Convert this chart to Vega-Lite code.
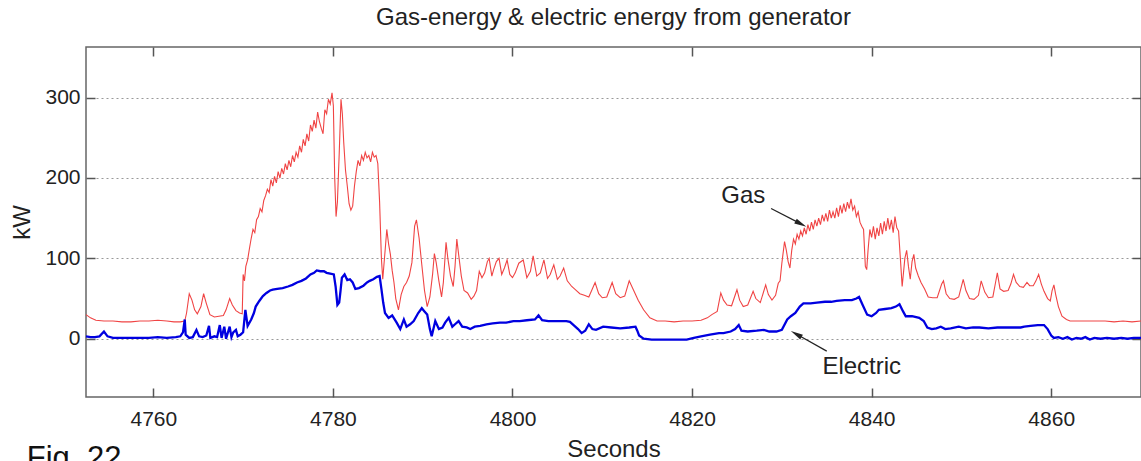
{
  "$schema": "https://vega.github.io/schema/vega-lite/v6.json",
  "width": 1055,
  "height": 350,
  "autosize": {"type": "none"},
  "padding": {"left": 86, "top": 47, "right": 0, "bottom": 64},
  "background": "white",
  "title": {
    "text": "Gas-energy & electric energy from generator",
    "font": "Liberation Sans",
    "fontSize": 24,
    "fontWeight": "normal",
    "color": "#222222",
    "anchor": "middle",
    "frame": "group",
    "baseline": "alphabetic",
    "offset": -3
  },
  "config": {
    "view": {"stroke": "#666666", "strokeWidth": 1.5},
    "axis": {
      "labelFont": "Liberation Sans",
      "labelFontSize": 21,
      "labelColor": "#222222",
      "titleFont": "Liberation Sans",
      "titleFontSize": 24,
      "titleFontWeight": "normal",
      "titleColor": "#222222",
      "domain": false,
      "tickColor": "#555555",
      "tickWidth": 1.5,
      "tickSize": -9,
      "grid": false,
      "format": "d"
    }
  },
  "datasets": {
    "gas": [
      {"t": 4752.5, "kw": 30}, {"t": 4753, "kw": 26}, {"t": 4753.6, "kw": 23}, {"t": 4754.5, "kw": 22},
      {"t": 4755.5, "kw": 22}, {"t": 4756.5, "kw": 21}, {"t": 4757.5, "kw": 21}, {"t": 4758.5, "kw": 22},
      {"t": 4759.5, "kw": 22}, {"t": 4760.5, "kw": 23}, {"t": 4761.5, "kw": 22}, {"t": 4762.3, "kw": 21},
      {"t": 4763, "kw": 21}, {"t": 4763.5, "kw": 22}, {"t": 4763.7, "kw": 32}, {"t": 4764.0, "kw": 56},
      {"t": 4764.3, "kw": 48}, {"t": 4764.6, "kw": 36}, {"t": 4764.9, "kw": 31}, {"t": 4765.3, "kw": 40},
      {"t": 4765.6, "kw": 56}, {"t": 4765.9, "kw": 44}, {"t": 4766.3, "kw": 30}, {"t": 4766.8, "kw": 27},
      {"t": 4767.3, "kw": 28}, {"t": 4767.8, "kw": 29}, {"t": 4768.1, "kw": 36}, {"t": 4768.5, "kw": 50},
      {"t": 4768.8, "kw": 42}, {"t": 4769.2, "kw": 35}, {"t": 4769.6, "kw": 32}, {"t": 4769.9, "kw": 31},
      {"t": 4770.0, "kw": 80}, {"t": 4770.15, "kw": 72}, {"t": 4770.3, "kw": 90}, {"t": 4770.5, "kw": 98},
      {"t": 4770.7, "kw": 112}, {"t": 4770.9, "kw": 125}, {"t": 4771.1, "kw": 136}, {"t": 4771.3, "kw": 132},
      {"t": 4771.5, "kw": 148}, {"t": 4771.7, "kw": 152}, {"t": 4771.9, "kw": 162}, {"t": 4772.1, "kw": 158},
      {"t": 4772.3, "kw": 172}, {"t": 4772.5, "kw": 178}, {"t": 4772.7, "kw": 186}, {"t": 4772.9, "kw": 182},
      {"t": 4773.1, "kw": 198}, {"t": 4773.3, "kw": 190}, {"t": 4773.5, "kw": 202}, {"t": 4773.7, "kw": 194},
      {"t": 4773.9, "kw": 208}, {"t": 4774.1, "kw": 200}, {"t": 4774.3, "kw": 212}, {"t": 4774.5, "kw": 205},
      {"t": 4774.7, "kw": 218}, {"t": 4774.9, "kw": 210}, {"t": 4775.1, "kw": 222}, {"t": 4775.3, "kw": 214},
      {"t": 4775.5, "kw": 228}, {"t": 4775.7, "kw": 220}, {"t": 4775.9, "kw": 232}, {"t": 4776.1, "kw": 226},
      {"t": 4776.3, "kw": 240}, {"t": 4776.5, "kw": 232}, {"t": 4776.7, "kw": 248}, {"t": 4776.9, "kw": 240},
      {"t": 4777.1, "kw": 255}, {"t": 4777.3, "kw": 246}, {"t": 4777.5, "kw": 266}, {"t": 4777.7, "kw": 258},
      {"t": 4777.9, "kw": 272}, {"t": 4778.1, "kw": 262}, {"t": 4778.3, "kw": 282}, {"t": 4778.5, "kw": 270},
      {"t": 4778.7, "kw": 262}, {"t": 4778.9, "kw": 255}, {"t": 4779.1, "kw": 285}, {"t": 4779.3, "kw": 280},
      {"t": 4779.5, "kw": 298}, {"t": 4779.7, "kw": 292}, {"t": 4779.9, "kw": 306}, {"t": 4780.05, "kw": 290},
      {"t": 4780.2, "kw": 200}, {"t": 4780.35, "kw": 152}, {"t": 4780.5, "kw": 170}, {"t": 4780.7, "kw": 230},
      {"t": 4780.9, "kw": 298}, {"t": 4781.05, "kw": 280}, {"t": 4781.2, "kw": 245}, {"t": 4781.4, "kw": 210},
      {"t": 4781.6, "kw": 190}, {"t": 4781.8, "kw": 168}, {"t": 4782.0, "kw": 160}, {"t": 4782.2, "kw": 165},
      {"t": 4782.4, "kw": 190}, {"t": 4782.6, "kw": 208}, {"t": 4782.8, "kw": 222}, {"t": 4783.0, "kw": 215},
      {"t": 4783.2, "kw": 228}, {"t": 4783.4, "kw": 222}, {"t": 4783.6, "kw": 232}, {"t": 4783.8, "kw": 225},
      {"t": 4784.0, "kw": 228}, {"t": 4784.2, "kw": 220}, {"t": 4784.4, "kw": 232}, {"t": 4784.6, "kw": 226},
      {"t": 4784.8, "kw": 228}, {"t": 4785.0, "kw": 218}, {"t": 4785.2, "kw": 170}, {"t": 4785.4, "kw": 100},
      {"t": 4785.55, "kw": 74}, {"t": 4785.8, "kw": 108}, {"t": 4786.0, "kw": 136}, {"t": 4786.2, "kw": 118},
      {"t": 4786.4, "kw": 105}, {"t": 4786.6, "kw": 85}, {"t": 4786.8, "kw": 70}, {"t": 4787.0, "kw": 50},
      {"t": 4787.3, "kw": 36}, {"t": 4787.6, "kw": 55}, {"t": 4787.9, "kw": 65}, {"t": 4788.2, "kw": 70},
      {"t": 4788.5, "kw": 78}, {"t": 4788.8, "kw": 95}, {"t": 4789.1, "kw": 140}, {"t": 4789.3, "kw": 148},
      {"t": 4789.6, "kw": 125}, {"t": 4789.9, "kw": 92}, {"t": 4790.2, "kw": 60}, {"t": 4790.5, "kw": 40},
      {"t": 4790.8, "kw": 52}, {"t": 4791.1, "kw": 80}, {"t": 4791.3, "kw": 106}, {"t": 4791.5, "kw": 95},
      {"t": 4791.8, "kw": 72}, {"t": 4792.1, "kw": 52}, {"t": 4792.3, "kw": 70}, {"t": 4792.6, "kw": 120},
      {"t": 4792.8, "kw": 100}, {"t": 4793.1, "kw": 78}, {"t": 4793.4, "kw": 65}, {"t": 4793.6, "kw": 90},
      {"t": 4793.8, "kw": 124}, {"t": 4794.0, "kw": 105}, {"t": 4794.3, "kw": 78}, {"t": 4794.6, "kw": 60},
      {"t": 4795.0, "kw": 57}, {"t": 4795.4, "kw": 49}, {"t": 4795.7, "kw": 53}, {"t": 4796.0, "kw": 60},
      {"t": 4796.3, "kw": 84}, {"t": 4796.6, "kw": 76}, {"t": 4796.9, "kw": 82}, {"t": 4797.2, "kw": 96},
      {"t": 4797.4, "kw": 100}, {"t": 4797.7, "kw": 78}, {"t": 4797.9, "kw": 86}, {"t": 4798.2, "kw": 96},
      {"t": 4798.5, "kw": 100}, {"t": 4798.8, "kw": 80}, {"t": 4799.1, "kw": 88}, {"t": 4799.4, "kw": 98},
      {"t": 4799.7, "kw": 80}, {"t": 4800.0, "kw": 76}, {"t": 4800.3, "kw": 82}, {"t": 4800.7, "kw": 94},
      {"t": 4801.2, "kw": 98}, {"t": 4801.6, "kw": 76}, {"t": 4802.0, "kw": 84}, {"t": 4802.3, "kw": 103},
      {"t": 4802.7, "kw": 78}, {"t": 4803.1, "kw": 82}, {"t": 4803.5, "kw": 98}, {"t": 4803.9, "kw": 75},
      {"t": 4804.2, "kw": 80}, {"t": 4804.6, "kw": 92}, {"t": 4805.0, "kw": 74}, {"t": 4805.3, "kw": 78},
      {"t": 4805.7, "kw": 88}, {"t": 4806.1, "kw": 72}, {"t": 4806.6, "kw": 65}, {"t": 4807.0, "kw": 61},
      {"t": 4807.5, "kw": 56}, {"t": 4808.0, "kw": 54}, {"t": 4808.5, "kw": 52}, {"t": 4809.2, "kw": 70},
      {"t": 4809.6, "kw": 56}, {"t": 4810.0, "kw": 51}, {"t": 4810.5, "kw": 52}, {"t": 4811.1, "kw": 70},
      {"t": 4811.5, "kw": 56}, {"t": 4812.0, "kw": 51}, {"t": 4812.5, "kw": 53}, {"t": 4813.0, "kw": 72},
      {"t": 4813.5, "kw": 60}, {"t": 4814.0, "kw": 48}, {"t": 4814.6, "kw": 36}, {"t": 4815.3, "kw": 26},
      {"t": 4816.1, "kw": 22}, {"t": 4817, "kw": 22}, {"t": 4818, "kw": 21}, {"t": 4819, "kw": 22},
      {"t": 4820, "kw": 22}, {"t": 4821, "kw": 23}, {"t": 4821.7, "kw": 26}, {"t": 4822.2, "kw": 30},
      {"t": 4822.8, "kw": 34}, {"t": 4823.2, "kw": 57}, {"t": 4823.5, "kw": 48}, {"t": 4823.9, "kw": 42},
      {"t": 4824.4, "kw": 41}, {"t": 4825.0, "kw": 61}, {"t": 4825.3, "kw": 48}, {"t": 4825.7, "kw": 40},
      {"t": 4826.2, "kw": 42}, {"t": 4826.8, "kw": 59}, {"t": 4827.1, "kw": 50}, {"t": 4827.6, "kw": 45},
      {"t": 4828.2, "kw": 67}, {"t": 4828.5, "kw": 55}, {"t": 4828.9, "kw": 48}, {"t": 4829.3, "kw": 54},
      {"t": 4829.6, "kw": 69}, {"t": 4829.8, "kw": 72}, {"t": 4830.0, "kw": 94}, {"t": 4830.3, "kw": 121},
      {"t": 4830.5, "kw": 110}, {"t": 4830.7, "kw": 96}, {"t": 4830.9, "kw": 88}, {"t": 4831.1, "kw": 110},
      {"t": 4831.3, "kw": 124}, {"t": 4831.5, "kw": 118}, {"t": 4831.7, "kw": 130}, {"t": 4831.9, "kw": 124},
      {"t": 4832.1, "kw": 134}, {"t": 4832.3, "kw": 128}, {"t": 4832.5, "kw": 138}, {"t": 4832.7, "kw": 130},
      {"t": 4832.9, "kw": 142}, {"t": 4833.1, "kw": 134}, {"t": 4833.3, "kw": 145}, {"t": 4833.5, "kw": 136},
      {"t": 4833.7, "kw": 148}, {"t": 4833.9, "kw": 140}, {"t": 4834.1, "kw": 150}, {"t": 4834.3, "kw": 142},
      {"t": 4834.5, "kw": 154}, {"t": 4834.7, "kw": 146}, {"t": 4834.9, "kw": 156}, {"t": 4835.1, "kw": 146},
      {"t": 4835.3, "kw": 160}, {"t": 4835.5, "kw": 150}, {"t": 4835.7, "kw": 158}, {"t": 4835.9, "kw": 150},
      {"t": 4836.1, "kw": 163}, {"t": 4836.3, "kw": 152}, {"t": 4836.5, "kw": 166}, {"t": 4836.7, "kw": 156},
      {"t": 4836.9, "kw": 168}, {"t": 4837.1, "kw": 158}, {"t": 4837.3, "kw": 170}, {"t": 4837.5, "kw": 162},
      {"t": 4837.7, "kw": 174}, {"t": 4837.9, "kw": 160}, {"t": 4838.1, "kw": 165}, {"t": 4838.3, "kw": 152},
      {"t": 4838.5, "kw": 158}, {"t": 4838.7, "kw": 145}, {"t": 4838.9, "kw": 140}, {"t": 4839.1, "kw": 136},
      {"t": 4839.3, "kw": 90}, {"t": 4839.45, "kw": 86}, {"t": 4839.6, "kw": 110}, {"t": 4839.8, "kw": 136},
      {"t": 4840.0, "kw": 126}, {"t": 4840.2, "kw": 140}, {"t": 4840.4, "kw": 124}, {"t": 4840.6, "kw": 138},
      {"t": 4840.8, "kw": 128}, {"t": 4841.0, "kw": 144}, {"t": 4841.2, "kw": 130}, {"t": 4841.4, "kw": 146},
      {"t": 4841.6, "kw": 134}, {"t": 4841.8, "kw": 150}, {"t": 4842.0, "kw": 136}, {"t": 4842.2, "kw": 148},
      {"t": 4842.4, "kw": 132}, {"t": 4842.6, "kw": 152}, {"t": 4842.8, "kw": 138}, {"t": 4843.0, "kw": 134},
      {"t": 4843.2, "kw": 100}, {"t": 4843.4, "kw": 65}, {"t": 4843.7, "kw": 100}, {"t": 4843.9, "kw": 110},
      {"t": 4844.1, "kw": 90}, {"t": 4844.3, "kw": 74}, {"t": 4844.5, "kw": 96}, {"t": 4844.7, "kw": 105},
      {"t": 4844.9, "kw": 88}, {"t": 4845.2, "kw": 78}, {"t": 4845.5, "kw": 70}, {"t": 4845.9, "kw": 62},
      {"t": 4846.3, "kw": 52}, {"t": 4846.8, "kw": 51}, {"t": 4847.3, "kw": 51}, {"t": 4847.8, "kw": 68},
      {"t": 4848.0, "kw": 72}, {"t": 4848.3, "kw": 56}, {"t": 4848.7, "kw": 50}, {"t": 4849.2, "kw": 49},
      {"t": 4849.7, "kw": 52}, {"t": 4850.2, "kw": 74}, {"t": 4850.5, "kw": 60}, {"t": 4850.9, "kw": 50},
      {"t": 4851.4, "kw": 49}, {"t": 4851.9, "kw": 54}, {"t": 4852.2, "kw": 72}, {"t": 4852.6, "kw": 58},
      {"t": 4853.0, "kw": 51}, {"t": 4853.5, "kw": 52}, {"t": 4853.8, "kw": 70}, {"t": 4854.0, "kw": 82},
      {"t": 4854.3, "kw": 62}, {"t": 4854.7, "kw": 59}, {"t": 4855.2, "kw": 60}, {"t": 4855.5, "kw": 68},
      {"t": 4855.8, "kw": 80}, {"t": 4856.1, "kw": 70}, {"t": 4856.5, "kw": 65}, {"t": 4856.9, "kw": 64},
      {"t": 4857.3, "kw": 70}, {"t": 4857.6, "kw": 66}, {"t": 4858.0, "kw": 66}, {"t": 4858.3, "kw": 72},
      {"t": 4858.6, "kw": 80}, {"t": 4858.9, "kw": 68}, {"t": 4859.2, "kw": 59}, {"t": 4859.6, "kw": 50},
      {"t": 4859.9, "kw": 47}, {"t": 4860.1, "kw": 60}, {"t": 4860.3, "kw": 67}, {"t": 4860.5, "kw": 55},
      {"t": 4860.8, "kw": 40}, {"t": 4861.2, "kw": 28}, {"t": 4861.7, "kw": 24}, {"t": 4862.1, "kw": 22},
      {"t": 4863, "kw": 22}, {"t": 4864, "kw": 22}, {"t": 4865, "kw": 22}, {"t": 4866, "kw": 22},
      {"t": 4867, "kw": 21}, {"t": 4868, "kw": 22}, {"t": 4869, "kw": 21}, {"t": 4870, "kw": 22}
    ],
    "electric": [
      {"t": 4752.5, "kw": 3}, {"t": 4753, "kw": 2}, {"t": 4753.5, "kw": 2}, {"t": 4754, "kw": 3},
      {"t": 4754.5, "kw": 9}, {"t": 4754.9, "kw": 3}, {"t": 4755.5, "kw": 1}, {"t": 4756.5, "kw": 1},
      {"t": 4757.5, "kw": 1}, {"t": 4758.5, "kw": 1}, {"t": 4759.5, "kw": 1}, {"t": 4760.5, "kw": 2},
      {"t": 4761.5, "kw": 1}, {"t": 4762.5, "kw": 2}, {"t": 4763.0, "kw": 3}, {"t": 4763.3, "kw": 8},
      {"t": 4763.5, "kw": 24}, {"t": 4763.6, "kw": 5}, {"t": 4764.0, "kw": 1}, {"t": 4764.4, "kw": 2},
      {"t": 4764.8, "kw": 11}, {"t": 4765.1, "kw": 3}, {"t": 4765.5, "kw": 2}, {"t": 4765.9, "kw": 4},
      {"t": 4766.2, "kw": 16}, {"t": 4766.35, "kw": 1}, {"t": 4766.8, "kw": 3}, {"t": 4767.1, "kw": 2},
      {"t": 4767.4, "kw": 17}, {"t": 4767.6, "kw": 1}, {"t": 4767.9, "kw": 15}, {"t": 4768.1, "kw": 0},
      {"t": 4768.5, "kw": 15}, {"t": 4768.7, "kw": 2}, {"t": 4768.9, "kw": 8}, {"t": 4769.2, "kw": 11},
      {"t": 4769.4, "kw": 3}, {"t": 4769.7, "kw": 5}, {"t": 4770.0, "kw": 8}, {"t": 4770.25, "kw": 36},
      {"t": 4770.5, "kw": 16}, {"t": 4770.9, "kw": 24}, {"t": 4771.2, "kw": 32}, {"t": 4771.4, "kw": 40},
      {"t": 4771.8, "kw": 47}, {"t": 4772.2, "kw": 53}, {"t": 4772.6, "kw": 57}, {"t": 4773.0, "kw": 60},
      {"t": 4773.3, "kw": 61}, {"t": 4773.8, "kw": 62}, {"t": 4774.4, "kw": 63}, {"t": 4775.0, "kw": 65},
      {"t": 4775.5, "kw": 67}, {"t": 4776.0, "kw": 70}, {"t": 4776.5, "kw": 72}, {"t": 4777.0, "kw": 75},
      {"t": 4777.5, "kw": 80}, {"t": 4777.9, "kw": 82}, {"t": 4778.2, "kw": 85}, {"t": 4778.6, "kw": 84},
      {"t": 4779.0, "kw": 84}, {"t": 4779.3, "kw": 82}, {"t": 4779.7, "kw": 81}, {"t": 4780.1, "kw": 80},
      {"t": 4780.3, "kw": 65}, {"t": 4780.5, "kw": 42}, {"t": 4780.7, "kw": 45}, {"t": 4780.85, "kw": 60},
      {"t": 4781.0, "kw": 76}, {"t": 4781.3, "kw": 80}, {"t": 4781.6, "kw": 73}, {"t": 4781.9, "kw": 74},
      {"t": 4782.2, "kw": 70}, {"t": 4782.5, "kw": 62}, {"t": 4782.9, "kw": 63}, {"t": 4783.4, "kw": 66},
      {"t": 4783.8, "kw": 70}, {"t": 4784.1, "kw": 72}, {"t": 4784.5, "kw": 74}, {"t": 4784.9, "kw": 77},
      {"t": 4785.2, "kw": 78}, {"t": 4785.4, "kw": 62}, {"t": 4785.6, "kw": 45}, {"t": 4785.8, "kw": 32},
      {"t": 4786.2, "kw": 26}, {"t": 4786.6, "kw": 29}, {"t": 4787.1, "kw": 20}, {"t": 4787.5, "kw": 12},
      {"t": 4787.9, "kw": 24}, {"t": 4788.2, "kw": 15}, {"t": 4788.6, "kw": 18}, {"t": 4789.0, "kw": 22},
      {"t": 4789.5, "kw": 32}, {"t": 4789.9, "kw": 38}, {"t": 4790.2, "kw": 34}, {"t": 4790.5, "kw": 30},
      {"t": 4790.8, "kw": 12}, {"t": 4791.0, "kw": 3}, {"t": 4791.4, "kw": 22}, {"t": 4791.8, "kw": 12},
      {"t": 4792.2, "kw": 14}, {"t": 4792.5, "kw": 20}, {"t": 4792.9, "kw": 26}, {"t": 4793.3, "kw": 15},
      {"t": 4793.6, "kw": 18}, {"t": 4794.0, "kw": 22}, {"t": 4794.4, "kw": 15}, {"t": 4794.9, "kw": 14},
      {"t": 4795.3, "kw": 12}, {"t": 4795.8, "kw": 15}, {"t": 4796.4, "kw": 16}, {"t": 4797.1, "kw": 18},
      {"t": 4797.8, "kw": 19}, {"t": 4798.6, "kw": 20}, {"t": 4799.3, "kw": 20}, {"t": 4800.1, "kw": 22},
      {"t": 4800.8, "kw": 22}, {"t": 4801.6, "kw": 23}, {"t": 4802.5, "kw": 24}, {"t": 4802.9, "kw": 29},
      {"t": 4803.3, "kw": 23}, {"t": 4804.0, "kw": 22}, {"t": 4805.0, "kw": 22}, {"t": 4806.0, "kw": 22},
      {"t": 4806.4, "kw": 21}, {"t": 4806.9, "kw": 16}, {"t": 4807.3, "kw": 12}, {"t": 4807.7, "kw": 7},
      {"t": 4808.1, "kw": 10}, {"t": 4808.5, "kw": 18}, {"t": 4808.9, "kw": 12}, {"t": 4809.3, "kw": 11},
      {"t": 4810.1, "kw": 15}, {"t": 4811.0, "kw": 14}, {"t": 4812.0, "kw": 13}, {"t": 4813.0, "kw": 14},
      {"t": 4813.7, "kw": 15}, {"t": 4813.9, "kw": 10}, {"t": 4814.1, "kw": 4}, {"t": 4814.6, "kw": 0},
      {"t": 4815.5, "kw": -1}, {"t": 4816.5, "kw": -1}, {"t": 4817.5, "kw": -1}, {"t": 4818.5, "kw": -1},
      {"t": 4819.4, "kw": -1}, {"t": 4820.2, "kw": 1}, {"t": 4821.0, "kw": 3}, {"t": 4822.0, "kw": 5},
      {"t": 4823.0, "kw": 7}, {"t": 4823.5, "kw": 7}, {"t": 4824.3, "kw": 9}, {"t": 4824.8, "kw": 12},
      {"t": 4825.2, "kw": 17}, {"t": 4825.5, "kw": 10}, {"t": 4826.2, "kw": 9}, {"t": 4827.2, "kw": 10},
      {"t": 4828.0, "kw": 11}, {"t": 4828.6, "kw": 9}, {"t": 4829.4, "kw": 9}, {"t": 4830.0, "kw": 11},
      {"t": 4830.6, "kw": 24}, {"t": 4831.0, "kw": 28}, {"t": 4831.5, "kw": 32}, {"t": 4832.0, "kw": 40},
      {"t": 4832.4, "kw": 44}, {"t": 4833.2, "kw": 44}, {"t": 4833.9, "kw": 45}, {"t": 4834.8, "kw": 46},
      {"t": 4835.5, "kw": 46}, {"t": 4836.1, "kw": 47}, {"t": 4837.0, "kw": 48}, {"t": 4837.8, "kw": 48},
      {"t": 4838.3, "kw": 50}, {"t": 4838.6, "kw": 52}, {"t": 4839.0, "kw": 42}, {"t": 4839.5, "kw": 30},
      {"t": 4840.0, "kw": 28}, {"t": 4840.5, "kw": 32}, {"t": 4840.8, "kw": 36}, {"t": 4841.5, "kw": 37},
      {"t": 4842.2, "kw": 38}, {"t": 4842.7, "kw": 40}, {"t": 4843.1, "kw": 43}, {"t": 4843.5, "kw": 34},
      {"t": 4843.8, "kw": 28}, {"t": 4844.5, "kw": 28}, {"t": 4845.3, "kw": 26}, {"t": 4845.8, "kw": 22},
      {"t": 4846.2, "kw": 14}, {"t": 4846.7, "kw": 12}, {"t": 4847.2, "kw": 13}, {"t": 4847.7, "kw": 15},
      {"t": 4848.2, "kw": 12}, {"t": 4848.8, "kw": 13}, {"t": 4849.7, "kw": 15}, {"t": 4850.5, "kw": 13},
      {"t": 4851.3, "kw": 14}, {"t": 4852.0, "kw": 14}, {"t": 4853.0, "kw": 13}, {"t": 4854.0, "kw": 14},
      {"t": 4855.0, "kw": 14}, {"t": 4856.0, "kw": 14}, {"t": 4856.6, "kw": 14}, {"t": 4857.0, "kw": 15},
      {"t": 4857.7, "kw": 16}, {"t": 4858.5, "kw": 17}, {"t": 4859.2, "kw": 17}, {"t": 4859.6, "kw": 12},
      {"t": 4860.0, "kw": 4}, {"t": 4860.3, "kw": 1}, {"t": 4860.8, "kw": 2}, {"t": 4861.3, "kw": 0},
      {"t": 4861.8, "kw": 2}, {"t": 4862.3, "kw": -1}, {"t": 4862.8, "kw": 1}, {"t": 4863.3, "kw": 0},
      {"t": 4863.8, "kw": 2}, {"t": 4864.3, "kw": -1}, {"t": 4864.8, "kw": 1}, {"t": 4865.5, "kw": 0},
      {"t": 4866.2, "kw": 1}, {"t": 4867, "kw": 0}, {"t": 4867.8, "kw": 1}, {"t": 4868.5, "kw": 0},
      {"t": 4869.2, "kw": 1}, {"t": 4870, "kw": 1}
    ],
    "labels": [
      {"label": "Gas", "t": 4825.7, "kw": 177},
      {"label": "Electric", "t": 4838.9, "kw": -35}
    ],
    "arrows": [
      {"label": "Gas", "t": 4828.8, "kw": 162, "t2": 4832.13, "kw2": 142.9},
      {"label": "Electric", "t": 4835.0, "kw": -15.4, "t2": 4831.6, "kw2": 5.8}
    ],
    "caption": [
      {"label": "Fig. 22", "t": 4745.9, "kw": -161}
    ]
  },
  "resolve": {"axis": {"x": "independent", "y": "independent"}},
  "layer": [
    {
      "data": {"name": "gas"},
      "mark": {"type": "line", "color": "#f04444", "strokeWidth": 1.1},
      "encoding": {
        "x": {
          "field": "t", "type": "quantitative",
          "scale": {"domain": [4752.5, 4870], "nice": false, "zero": false},
          "axis": {
            "orient": "bottom",
            "values": [4760, 4780, 4800, 4820, 4840, 4860],
            "title": "Seconds",
            "labelPadding": 20,
            "titlePadding": 8
          }
        },
        "y": {
          "field": "kw", "type": "quantitative",
          "scale": {"domain": [-72.5, 363], "nice": false, "zero": false},
          "axis": {
            "orient": "left",
            "values": [0, 100, 200, 300],
            "title": "kW",
            "labelPadding": 15,
            "titlePadding": 10,
            "grid": true,
            "gridColor": "#999999",
            "gridDash": [2, 3],
            "gridWidth": 1
          }
        }
      }
    },
    {
      "data": {"name": "electric"},
      "mark": {"type": "line", "color": "#0000e0", "strokeWidth": 2.3},
      "encoding": {
        "x": {
          "field": "t", "type": "quantitative",
          "scale": {"domain": [4752.5, 4870], "nice": false, "zero": false},
          "axis": {"orient": "top", "values": [4760, 4780, 4800, 4820, 4840, 4860], "labels": false, "title": null}
        },
        "y": {
          "field": "kw", "type": "quantitative",
          "scale": {"domain": [-72.5, 363], "nice": false, "zero": false},
          "axis": {"orient": "right", "values": [0, 100, 200, 300], "labels": false, "title": null}
        }
      }
    },
    {
      "data": {"name": "arrows"},
      "mark": {"type": "rule", "color": "#222222", "strokeWidth": 1.2},
      "encoding": {
        "x": {"field": "t", "type": "quantitative", "scale": {"domain": [4752.5, 4870], "nice": false, "zero": false}, "axis": null},
        "y": {"field": "kw", "type": "quantitative", "scale": {"domain": [-72.5, 363], "nice": false, "zero": false}, "axis": null},
        "x2": {"field": "t2"},
        "y2": {"field": "kw2"}
      }
    },
    {
      "data": {"name": "arrows"},
      "mark": {"type": "point", "shape": "M0,-1L0.45,1L-0.45,1Z", "filled": true, "size": 150, "color": "#222222", "opacity": 1},
      "encoding": {
        "x": {"field": "t2", "type": "quantitative", "scale": {"domain": [4752.5, 4870], "nice": false, "zero": false}, "axis": null},
        "y": {"field": "kw2", "type": "quantitative", "scale": {"domain": [-72.5, 363], "nice": false, "zero": false}, "axis": null},
        "angle": {"condition": {"test": "datum.label === 'Gas'", "value": 117}, "value": 299}
      }
    },
    {
      "data": {"name": "labels"},
      "mark": {"type": "text", "font": "Liberation Sans", "fontSize": 24, "color": "#222222", "align": "center", "baseline": "middle"},
      "encoding": {
        "x": {"field": "t", "type": "quantitative", "scale": {"domain": [4752.5, 4870], "nice": false, "zero": false}, "axis": null},
        "y": {"field": "kw", "type": "quantitative", "scale": {"domain": [-72.5, 363], "nice": false, "zero": false}, "axis": null},
        "text": {"field": "label"}
      }
    },
    {
      "data": {"name": "caption"},
      "mark": {"type": "text", "font": "Liberation Sans", "fontSize": 31, "color": "#111111", "align": "left", "baseline": "alphabetic"},
      "encoding": {
        "x": {"field": "t", "type": "quantitative", "scale": {"domain": [4752.5, 4870], "nice": false, "zero": false}, "axis": null},
        "y": {"field": "kw", "type": "quantitative", "scale": {"domain": [-72.5, 363], "nice": false, "zero": false}, "axis": null},
        "text": {"field": "label"}
      }
    }
  ]
}
